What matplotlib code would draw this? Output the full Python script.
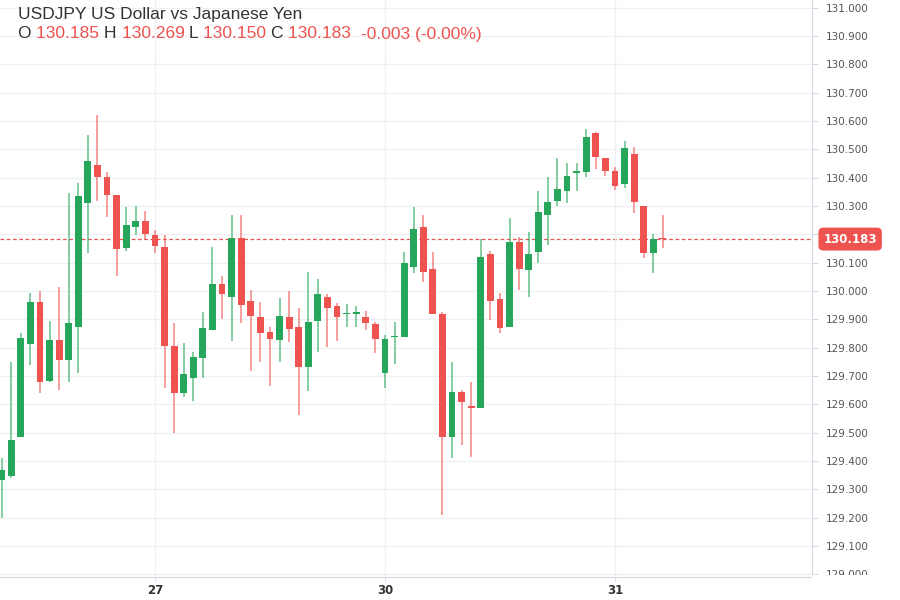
import matplotlib
matplotlib.use("Agg")
import matplotlib.pyplot as plt
from matplotlib.patches import Rectangle
import numpy as np

# hourly candles, index 0 = 27 00:00
opens = [129.333, 129.345, 129.486, 129.813, 129.960, 129.682, 129.825, 129.756,
         129.874, 130.310, 130.444, 130.401, 130.339, 130.151, 130.225, 130.248,
         130.198, 130.154, 129.807, 129.641, 129.692, 129.762, 129.862, 130.024,
         129.980, 130.186, 129.966, 129.909, 129.854, 129.827, 129.909, 129.872,
         129.733, 129.895, 129.980, 129.945, 129.917, 129.919, 129.909, 129.884,
         129.709, 129.836, 129.839, 130.084, 130.227, 130.077, 129.919, 129.484,
         129.642, 129.592, 129.586, 130.130, 129.971, 129.872, 130.174, 130.074,
         130.139, 130.268, 130.318, 130.351, 130.415, 130.421, 130.557, 130.468,
         130.425, 130.378, 130.484, 130.301, 130.133, 130.185]
highs = [129.410, 129.750, 129.851, 129.994, 129.998, 129.894, 130.015, 130.345,
         130.382, 130.551, 130.621, 130.421, 130.339, 130.295, 130.300, 130.283,
         130.215, 130.198, 129.888, 129.815, 129.784, 129.927, 130.156, 130.054,
         130.268, 130.268, 130.004, 129.960, 129.872, 129.974, 129.998, 129.939,
         130.068, 130.041, 129.989, 129.957, 129.954, 129.945, 129.930, 129.892,
         129.845, 129.892, 130.139, 130.295, 130.268, 130.139, 129.927, 129.750,
         129.651, 129.680, 130.183, 130.142, 129.992, 130.257, 130.190, 130.209,
         130.353, 130.401, 130.468, 130.451, 130.451, 130.571, 130.562, 130.468,
         130.439, 130.531, 130.507, 130.301, 130.201, 130.269]
lows = [129.200, 129.340, 129.485, 129.739, 129.639, 129.680, 129.651, 129.680,
        129.709, 130.135, 130.319, 130.262, 130.054, 130.142, 130.198, 130.180,
        130.133, 129.657, 129.498, 129.625, 129.613, 129.692, 129.862, 129.900,
        129.824, 129.886, 129.718, 129.748, 129.665, 129.748, 129.818, 129.562,
        129.645, 129.784, 129.801, 129.824, 129.874, 129.874, 129.862, 129.782,
        129.657, 129.742, 129.838, 130.062, 130.033, 129.919, 129.209, 129.409,
        129.456, 129.415, 129.586, 129.898, 129.853, 129.872, 130.004, 129.978,
        130.100, 130.162, 130.300, 130.312, 130.351, 130.403, 130.430, 130.406,
        130.357, 130.363, 130.274, 130.115, 130.065, 130.150]
closes = [129.368, 129.474, 129.833, 129.960, 129.680, 129.825, 129.756, 129.886,
          130.335, 130.459, 130.401, 130.339, 130.148, 130.231, 130.248, 130.201,
          130.159, 129.807, 129.641, 129.706, 129.768, 129.868, 130.024, 129.989,
          130.186, 129.951, 129.912, 129.851, 129.831, 129.913, 129.865, 129.733,
          129.892, 129.989, 129.939, 129.907, 129.920, 129.922, 129.886, 129.831,
          129.831, 129.841, 130.100, 130.218, 130.068, 129.919, 129.484, 129.642,
          129.607, 129.587, 130.121, 129.966, 129.868, 130.174, 130.077, 130.131,
          130.280, 130.315, 130.360, 130.407, 130.425, 130.543, 130.474, 130.425,
          130.372, 130.506, 130.315, 130.133, 130.184, 130.183]
hours = np.arange(-16, -16 + len(opens))

day_labels = ["27", "30", "31"]
day_pos = [0, 24, 48]
yticks = np.round(np.arange(129.0, 131.05, 0.1), 1)

last_price = 130.183
title = "USDJPY US Dollar vs Japanese Yen"
ohlc_line = [("O ", "k"), ("130.185 ", "r"), ("H ", "k"), ("130.269 ", "r"),
             ("L ", "k"), ("130.150 ", "r"), ("C ", "k"), ("130.183  ", "r"),
             ("-0.003 (-0.00%)", "r")]

UP = "#26a65b"
DOWN = "#ef5350"
GRID = "#eef0f3"
AXC = "#d3dae3"

fig = plt.figure(figsize=(9, 6), dpi=100)
ax = fig.add_axes([0.0, 0.0383, 812 / 900, 1 - 0.0383])

w = 0.72
for x, o, h, l, c in zip(hours, opens, highs, lows, closes):
    col = UP if c >= o else DOWN
    ax.vlines(x, l, h, color=col, lw=1.3, alpha=0.6, zorder=2)
    bh = max(abs(c - o), 0.005)
    ax.add_patch(Rectangle((x - w / 2, min(o, c)), w, bh, facecolor=col,
                           edgecolor="none", zorder=3))

ax.set_xlim(-16.17, 68.56)
ax.set_ylim(128.99, 131.027)

# 130.200 sits under the last-price badge, so it is left blank
ax.set_yticks(yticks)
ax.set_yticklabels(["" if abs(v - 130.2) < 1e-6 else f"{v:.3f}" for v in yticks])
ax.yaxis.tick_right()
ax.tick_params(axis="y", length=4, color=AXC, labelsize=7.5, labelcolor="#555555", pad=6)
ax.set_xticks(day_pos)
ax.set_xticklabels(day_labels)
ax.tick_params(axis="x", length=3, color=AXC, labelsize=8.5, labelcolor="#333333", pad=2)
for lab in ax.get_xticklabels():
    lab.set_fontweight("bold")

ax.grid(True, color=GRID, lw=1, zorder=0)
for side in ["top", "left"]:
    ax.spines[side].set_visible(False)
ax.spines["right"].set_color(AXC)
ax.spines["bottom"].set_color(AXC)

# last price line and label
ax.axhline(last_price, color=DOWN, lw=0.9, ls=(0, (3, 2)), zorder=1)
ax.text(1.047, last_price, f"{last_price:.3f}", transform=ax.get_yaxis_transform(),
        ha="center", va="center", color="white", fontsize=8.5, fontweight="bold",
        clip_on=False, zorder=6,
        bbox=dict(boxstyle="round,pad=0.42,rounding_size=0.4", fc=DOWN, ec="none"))

# the bottom price label is cut by the time axis
fig.patches.append(Rectangle((812 / 900, 0), 1, 25.5 / 600, transform=fig.transFigure,
                             facecolor="white", edgecolor="none", zorder=5))

fig.text(18 / 900, 1 - 14 / 600, title, fontsize=12.5, color="#333333",
         family="Liberation Sans", va="center")

renderer = fig.canvas.get_renderer()
xpos = 18
for txt, c in ohlc_line:
    t = fig.text(xpos / 900, 1 - 34 / 600, txt, fontsize=12.5, family="Liberation Sans",
                 color="#333333" if c == "k" else DOWN, va="center")
    xpos += t.get_window_extent(renderer).width

fig.savefig("out.png", dpi=100, facecolor="white")
